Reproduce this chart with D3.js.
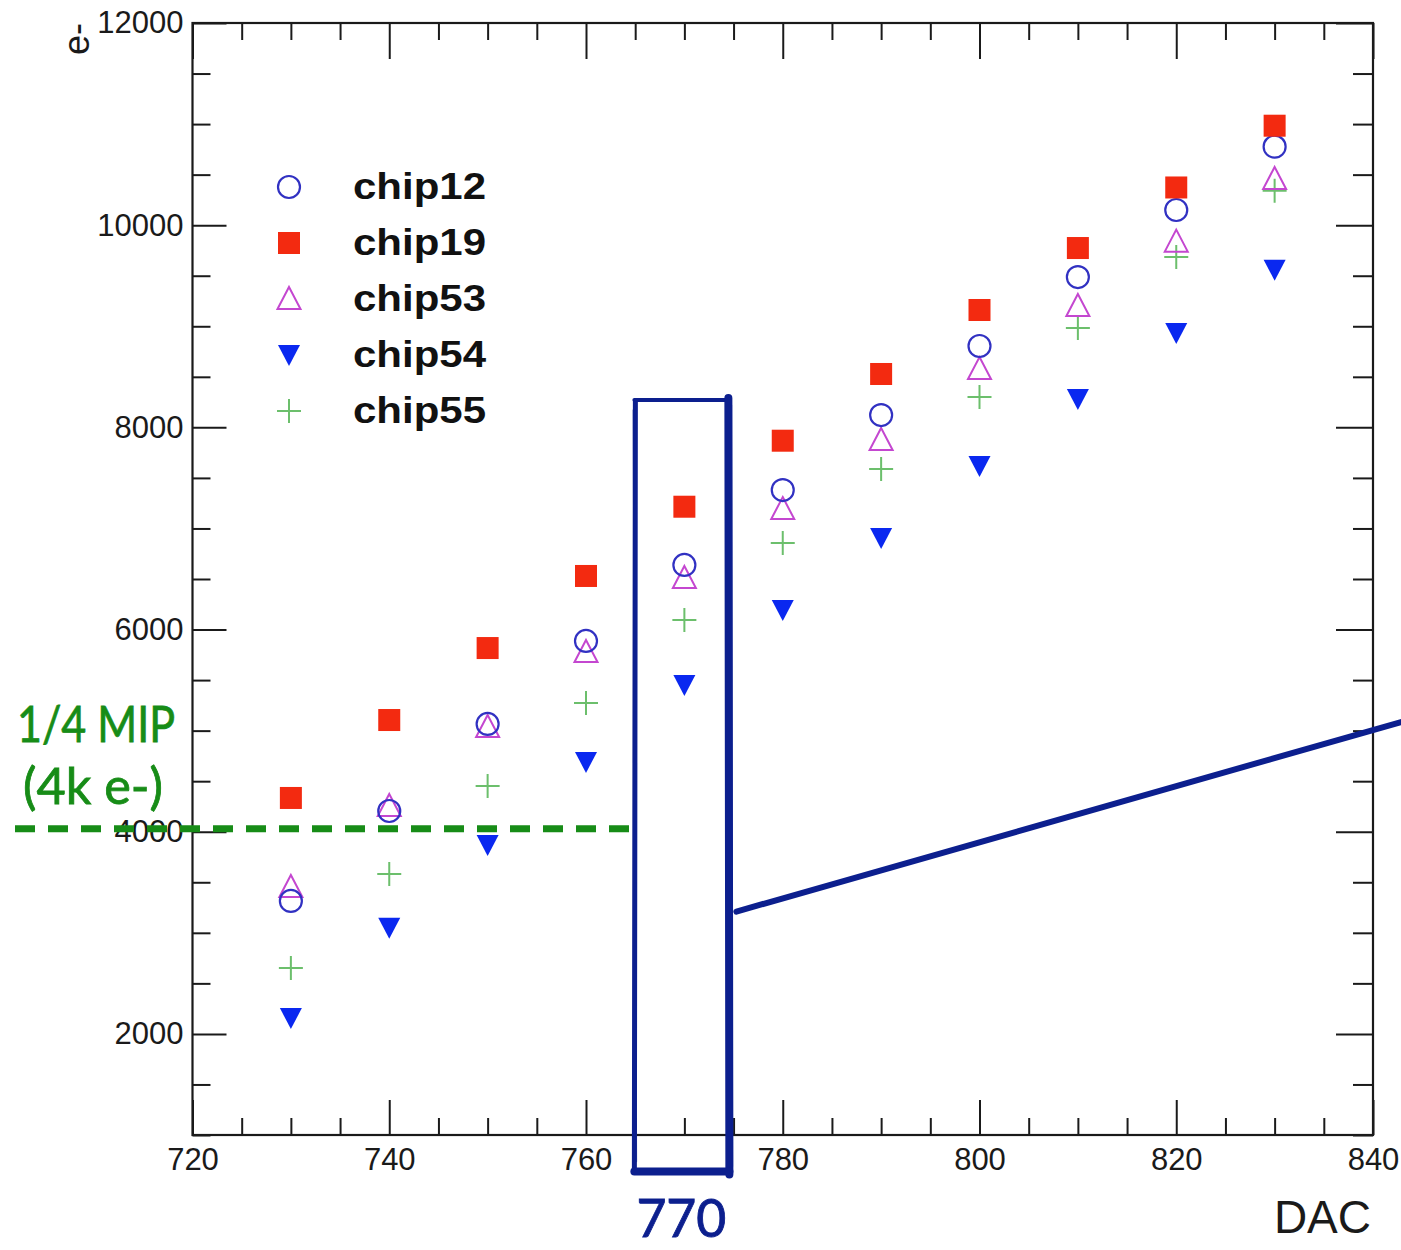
<!DOCTYPE html>
<html>
<head>
<meta charset="utf-8">
<script src="https://cdn.jsdelivr.net/npm/d3@7"></script>
<style>
html,body{margin:0;padding:0;background:#fff;}
svg{display:block;}
</style>
</head>
<body>
<svg id="chart" width="1401" height="1250"></svg>
<script>
// ---- data ----
const dac = [730, 740, 750, 760, 770, 780, 790, 800, 810, 820, 830];
const chip12 = [3315, 4205, 5066, 5887, 6639, 7380, 8122, 8805, 9487, 10150, 10777];
const chip19 = [4334, 5105, 5817, 6530, 7215, 7868, 8528, 9161, 9774, 10373, 10984];
const chip53 = [3453, 4255, 5036, 5778, 6510, 7192, 7875, 8577, 9201, 9837, 10457];
const chip54 = [2157, 3050, 3869, 4690, 5451, 6193, 6906, 7618, 8281, 8933, 9560];
const chip55 = [2652, 3582, 4452, 5273, 6094, 6856, 7588, 8300, 8983, 9685, 10341];
const seriesNames = ["chip12", "chip19", "chip53", "chip54", "chip55"];
const xMajorTicks = [720, 740, 760, 780, 800, 820, 840];
const yMajorTicks = [2000, 4000, 6000, 8000, 10000, 12000];
const xTitle = "DAC";
const yTitle = "e-";
const thresholdValue = 4030;
const thresholdLabel = ["1/4 MIP", "(4k e-)"];
const highlightDac = 770;
const highlightLabel = "770";

(function () {
// ---- setup ----
const svg = d3.select("#chart");
svg.append("rect").attr("width", 1401).attr("height", 1250).attr("fill", "#fff");

const pL = 192.5, pR = 1373, pT = 23, pB = 1135;
const x = d3.scaleLinear().domain([720, 840]).range([pL, pR]);
const y = d3.scaleLinear().domain([1000, 12000]).range([pB, pT]);

const xMinor = d3.range(720, 841, 5).filter(v => !xMajorTicks.includes(v));
const yMinor = d3.range(1000, 12001, 500).filter(v => !yMajorTicks.includes(v));
const axisFont = "'Liberation Sans', Arial, Helvetica, sans-serif";

function styleAxis(g) {
  g.select(".domain").remove();
  g.selectAll("line").attr("stroke", "#1a1a1a").attr("stroke-width", 2);
  g.selectAll("text").attr("fill", "#1a1a1a").attr("font-family", axisFont).attr("font-size", 31);
}

// bottom
svg.append("g").attr("transform", `translate(0,${pB})`)
  .call(d3.axisBottom(x).tickValues(xMajorTicks).tickSize(-35).tickPadding(13).tickFormat(d3.format("d")))
  .call(styleAxis);
svg.append("g").attr("transform", `translate(0,${pB})`)
  .call(d3.axisBottom(x).tickValues(xMinor).tickSize(-17).tickFormat(""))
  .call(styleAxis);
// top
svg.append("g").attr("transform", `translate(0,${pT})`)
  .call(d3.axisTop(x).tickValues(xMajorTicks).tickSize(-36).tickFormat(""))
  .call(styleAxis);
svg.append("g").attr("transform", `translate(0,${pT})`)
  .call(d3.axisTop(x).tickValues(xMinor).tickSize(-17).tickFormat(""))
  .call(styleAxis);
// left
svg.append("g").attr("transform", `translate(${pL},0)`)
  .call(d3.axisLeft(y).tickValues(yMajorTicks).tickSize(-34).tickPadding(9).tickFormat(d3.format("d")))
  .call(styleAxis);
svg.append("g").attr("transform", `translate(${pL},0)`)
  .call(d3.axisLeft(y).tickValues(yMinor).tickSize(-18).tickFormat(""))
  .call(styleAxis);
// right
svg.append("g").attr("transform", `translate(${pR},0)`)
  .call(d3.axisRight(y).tickValues(yMajorTicks).tickSize(-37).tickFormat(""))
  .call(styleAxis);
svg.append("g").attr("transform", `translate(${pR},0)`)
  .call(d3.axisRight(y).tickValues(yMinor).tickSize(-20).tickFormat(""))
  .call(styleAxis);

// frame
svg.append("rect").attr("x", pL).attr("y", pT).attr("width", pR - pL).attr("height", pB - pT)
  .attr("fill", "none").attr("stroke", "#1a1a1a").attr("stroke-width", 2.2);

// axis titles
svg.append("text").attr("x", pR - 2).attr("y", 1233).attr("text-anchor", "end")
  .attr("font-family", axisFont).attr("font-size", 46).attr("fill", "#1a1a1a").text(xTitle);
svg.append("text").attr("transform", `translate(89,${pT}) rotate(-90)`).attr("text-anchor", "end")
  .attr("font-family", axisFont).attr("font-size", 36).attr("fill", "#1a1a1a").text(yTitle);

// ---- markers ----
const styles = {
  chip12: {color: "#3131c2"},
  chip19: {color: "#f32a10"},
  chip53: {color: "#c447d0"},
  chip54: {color: "#0a28f0"},
  chip55: {color: "#6cbf6c"}
};
function drawMarker(g, name, cx, cy) {
  const c = styles[name].color;
  if (name === "chip12") {
    g.append("circle").attr("cx", cx).attr("cy", cy).attr("r", 11)
      .attr("fill", "none").attr("stroke", c).attr("stroke-width", 2.2);
  } else if (name === "chip19") {
    g.append("rect").attr("x", cx - 11).attr("y", cy - 11).attr("width", 22).attr("height", 22).attr("fill", c);
  } else if (name === "chip53") {
    g.append("path").attr("d", `M${cx},${cy - 12}L${cx + 11.5},${cy + 10}L${cx - 11.5},${cy + 10}Z`)
      .attr("fill", "none").attr("stroke", c).attr("stroke-width", 2);
  } else if (name === "chip54") {
    g.append("path").attr("d", `M${cx - 11},${cy - 10}L${cx + 11},${cy - 10}L${cx},${cy + 11}Z`).attr("fill", c);
  } else if (name === "chip55") {
    g.append("path").attr("d", `M${cx - 12},${cy}H${cx + 12}M${cx},${cy - 12}V${cy + 12}`)
      .attr("fill", "none").attr("stroke", c).attr("stroke-width", 2);
  }
}
const seriesData = {chip12, chip19, chip53, chip54, chip55};
const drawOrder = ["chip55", "chip54", "chip53", "chip12", "chip19"];
const markG = svg.append("g");
drawOrder.forEach(name => {
  seriesData[name].forEach((v, i) => drawMarker(markG, name, x(dac[i]), y(v)));
});

// ---- legend ----
const legG = svg.append("g");
seriesNames.forEach((name, i) => {
  const ly = 187 + i * 56;
  drawMarker(legG, name, 289, ly);
  legG.append("text").attr("x", 353).attr("y", ly + 12)
    .attr("font-family", axisFont).attr("font-weight", "bold").attr("font-size", 37)
    .attr("textLength", 133).attr("lengthAdjust", "spacingAndGlyphs")
    .attr("fill", "#111").text(name);
});

// ---- annotations ----
const annFont = "Lato, 'Open Sans', sans-serif";
const green = "#178c17";
const navy = "#0c1f8e";
const hx = x(highlightDac);
svg.append("line").attr("x1", 15).attr("x2", hx - 54).attr("y1", y(thresholdValue)).attr("y2", y(thresholdValue))
  .attr("stroke", green).attr("stroke-width", 7).attr("stroke-dasharray", "20,13");
svg.append("text").attr("x", 96).attr("y", 742).attr("text-anchor", "middle")
  .attr("font-family", annFont).attr("font-size", 50).attr("fill", green)
  .attr("stroke", green).attr("stroke-width", 0.8)
  .attr("textLength", 158).attr("lengthAdjust", "spacingAndGlyphs").text(thresholdLabel[0]);
svg.append("text").attr("x", 93).attr("y", 804).attr("text-anchor", "middle")
  .attr("font-family", annFont).attr("font-size", 50).attr("fill", green)
  .attr("stroke", green).attr("stroke-width", 0.8)
  .attr("textLength", 140).attr("lengthAdjust", "spacingAndGlyphs").text(thresholdLabel[1]);

// highlight box (hand-drawn look)
const bx0 = hx - 50, bx1 = hx + 44, by0 = y(8270), by1 = y(640);
const boxG = svg.append("g").attr("fill", "none").attr("stroke", navy).attr("stroke-linecap", "round");
boxG.append("path").attr("d", `M${bx0},${by0}L${bx1},${by0}`).attr("stroke-width", 4);
boxG.append("path").attr("d", `M${bx0 + 1},${by0 + 2}L${bx0},${by1}`).attr("stroke-width", 5);
boxG.append("path").attr("d", `M${bx1},${by0 - 2}L${bx1 + 1},${by1 + 3}`).attr("stroke-width", 8);
boxG.append("path").attr("d", `M${bx0},${by1}L${bx1 + 1},${by1}`).attr("stroke-width", 8);
boxG.append("path").attr("d", `M${bx0 - 1},${by0 + 10}L${bx0 + 2},${by1 - 10}`).attr("stroke-width", 1.5).attr("opacity", 0.7);
boxG.append("path").attr("d", `M${bx1 + 3},${by0 + 5}L${bx1 + 4},${by1 - 5}`).attr("stroke-width", 1.5).attr("opacity", 0.7);
// connector line
boxG.append("path").attr("d", `M${bx1 + 8},${y(3210)}L${1401},${y(5085)}`).attr("stroke-width", 6);

svg.append("text").attr("x", hx - 3).attr("y", 1237).attr("text-anchor", "middle")
  .attr("font-family", annFont).attr("font-size", 53).attr("fill", navy)
  .attr("stroke", navy).attr("stroke-width", 0.9)
  .attr("textLength", 90).attr("lengthAdjust", "spacingAndGlyphs").text(highlightLabel);
})();
</script>
</body>
</html>
